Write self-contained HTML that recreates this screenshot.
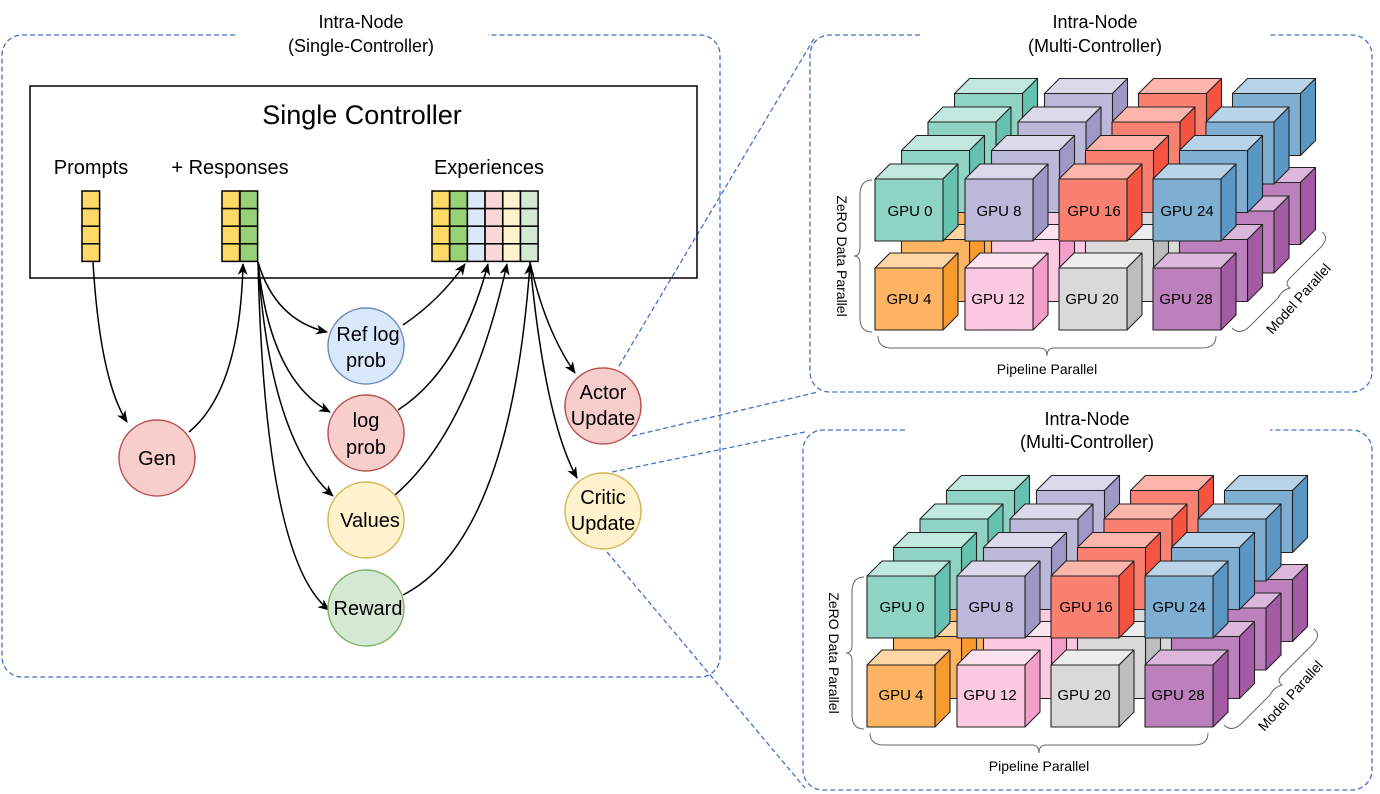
<!DOCTYPE html>
<html><head><meta charset="utf-8"><style>
html,body{margin:0;padding:0;background:#fff;}
svg{display:block;font-family:"Liberation Sans",sans-serif;}
.c{font-family:"Liberation Sans",sans-serif;font-size:15px;}
</style></head><body>
<svg id="s" width="1380" height="794" viewBox="0 0 1380 794" xmlns="http://www.w3.org/2000/svg">
<defs>
<marker id="ar" viewBox="0 0 12 10" refX="11" refY="5" markerWidth="12" markerHeight="10" orient="auto-start-reverse" markerUnits="userSpaceOnUse">
<path d="M0,0 L12,5 L0,10 L3.5,5 z" fill="#000"/></marker>
</defs>
<g fill="none" stroke="#4472c4" stroke-width="1.3" stroke-dasharray="5,3">
<path d="M235,35 H22 A20,20 0 0 0 2,55 V657 A20,20 0 0 0 22,677 H700 A20,20 0 0 0 720,657 V55 A20,20 0 0 0 700,35 H488"/>
<path d="M920,35 H830 A20,20 0 0 0 810,55 V372 A20,20 0 0 0 830,392 H1352 A20,20 0 0 0 1372,372 V55 A20,20 0 0 0 1352,35 H1270"/>
<path d="M905,430 H823 A20,20 0 0 0 803,450 V770 A20,20 0 0 0 823,790 H1352 A20,20 0 0 0 1372,770 V450 A20,20 0 0 0 1352,430 H1270"/>
<line x1="619" y1="366" x2="815" y2="37"/>
<line x1="632" y1="436" x2="818" y2="392"/>
<line x1="612" y1="472" x2="805" y2="432"/>
<line x1="607" y1="552" x2="805" y2="788"/>
</g>
<g font-size="18" text-anchor="middle" fill="#000">
<text x="361" y="28">Intra-Node</text><text x="361" y="52">(Single-Controller)</text>
<text x="1095" y="28">Intra-Node</text><text x="1095" y="52">(Multi-Controller)</text>
<text x="1087" y="425">Intra-Node</text><text x="1087" y="448">(Multi-Controller)</text>
</g>
<rect x="30" y="86" width="667" height="192" fill="none" stroke="#000" stroke-width="1.5"/>
<text x="362" y="124" font-size="27" text-anchor="middle">Single Controller</text>
<g font-size="20" text-anchor="middle">
<text x="91" y="174">Prompts</text><text x="230" y="174">+ Responses</text><text x="489" y="174">Experiences</text>
</g>
<g id="grids" stroke="#000" stroke-width="1.5"></g>
<g fill="none" stroke="#000" stroke-width="1.5" marker-end="url(#ar)">
<path d="M93,262 Q100,380 127,422"/>
<path d="M189,432 Q240,390 243,264"/>
<path d="M258,262 Q275,320 327,332"/>
<path d="M258,262 Q270,380 330,412"/>
<path d="M258,262 Q270,440 333,496"/>
<path d="M258,262 Q265,560 329,610"/>
<path d="M403,325 Q440,300 465,264"/>
<path d="M398,410 Q460,370 488,264"/>
<path d="M395,495 Q470,430 507,264"/>
<path d="M403,595 Q510,540 530,264"/>
<path d="M530,262 Q545,330 575,373"/>
<path d="M530,262 Q545,420 577,478"/>
</g>
<g stroke-width="1.5">
<circle cx="157" cy="458" r="38" fill="#f8cecc" stroke="#b85450"/>
<circle cx="366" cy="346" r="38" fill="#dae8fc" stroke="#6c8ebf"/>
<circle cx="366" cy="433" r="38" fill="#f8cecc" stroke="#b85450"/>
<circle cx="366" cy="520" r="38" fill="#fff2cc" stroke="#d6b656"/>
<circle cx="366" cy="608" r="38" fill="#d5e8d4" stroke="#82b366"/>
<circle cx="603" cy="406" r="38" fill="#f8cecc" stroke="#b85450"/>
<circle cx="603" cy="511" r="38" fill="#fff2cc" stroke="#d6b656"/>
</g>
<g font-size="20" text-anchor="middle">
<text x="157" y="465">Gen</text>
<text x="368" y="341">Ref log</text><text x="366" y="367">prob</text>
<text x="366" y="427">log</text><text x="366" y="454">prob</text>
<text x="370" y="527">Values</text>
<text x="368" y="615">Reward</text>
<text x="603" y="399">Actor</text><text x="603" y="425">Update</text>
<text x="603" y="504">Critic</text><text x="603" y="530">Update</text>
</g>
<g id="cubes1"></g><g id="cubes2"></g>
<g class="c">
<text x="910" y="216" text-anchor="middle">GPU 0</text>
<text x="999" y="216" text-anchor="middle">GPU 8</text>
<text x="1094" y="216" text-anchor="middle">GPU 16</text>
<text x="1187" y="216" text-anchor="middle">GPU 24</text>
<text x="909" y="304" text-anchor="middle">GPU 4</text>
<text x="998" y="304" text-anchor="middle">GPU 12</text>
<text x="1092" y="304" text-anchor="middle">GPU 20</text>
<text x="1186" y="304" text-anchor="middle">GPU 28</text>
<text x="1047" y="374" text-anchor="middle" font-size="14">Pipeline Parallel</text>
<text transform="translate(837,256) rotate(90)" text-anchor="middle" font-size="14">ZeRO Data Parallel</text>
<text transform="translate(1302,302) rotate(-48)" text-anchor="middle" font-size="14">Model Parallel</text>
<text x="902" y="612" text-anchor="middle">GPU 0</text>
<text x="991" y="612" text-anchor="middle">GPU 8</text>
<text x="1086" y="612" text-anchor="middle">GPU 16</text>
<text x="1179" y="612" text-anchor="middle">GPU 24</text>
<text x="901" y="700" text-anchor="middle">GPU 4</text>
<text x="990" y="700" text-anchor="middle">GPU 12</text>
<text x="1084" y="700" text-anchor="middle">GPU 20</text>
<text x="1178" y="700" text-anchor="middle">GPU 28</text>
<text x="1039" y="771" text-anchor="middle" font-size="14">Pipeline Parallel</text>
<text transform="translate(829,653) rotate(90)" text-anchor="middle" font-size="14">ZeRO Data Parallel</text>
<text transform="translate(1294,699) rotate(-48)" text-anchor="middle" font-size="14">Model Parallel</text>
</g>
<g fill="none" stroke="#666" stroke-width="1">
<path d="M872,180 Q860,180 860,195 V248 Q860,256 854,256 Q860,256 860,264 V318 Q860,332 872,332"/>
<path d="M878,336 Q878,348 892,348 H1040 Q1047,348 1047,356 Q1047,348 1054,348 H1202 Q1216,348 1216,336"/>
<path d="M1232,328 Q1240,336 1250,326 L1278,298 Q1282,290 1290,288 Q1284,284 1290,278 L1320,248 Q1330,238 1322,232"/>
<path d="M864,577 Q852,577 852,592 V645 Q852,653 846,653 Q852,653 852,661 V715 Q852,729 864,729"/>
<path d="M870,733 Q870,745 884,745 H1032 Q1039,745 1039,753 Q1039,745 1046,745 H1194 Q1208,745 1208,733"/>
<path d="M1224,725 Q1232,733 1242,723 L1270,695 Q1274,687 1282,685 Q1276,681 1282,675 L1312,645 Q1322,635 1314,629"/>
</g>
</svg>
<script>
(function(){
var NS="http://www.w3.org/2000/svg";
function el(p,t,a){var e=document.createElementNS(NS,t);for(var k in a)e.setAttribute(k,a[k]);p.appendChild(e);return e;}
var g=document.getElementById('grids');
function col(x,c){for(var i=0;i<4;i++)el(g,'rect',{x:x,y:191+i*17.6,width:17.6,height:17.6,fill:c});}
col(82,'#ffd966');col(222,'#ffd966');col(240,'#97d077');
var ec=['#ffd966','#97d077','#dae8fc','#f8d7d6','#fff2cc','#d5e8d4'];
for(var j=0;j<6;j++)col(432+j*17.7,ec[j]);
var top=[['#8fd3c4','#c2e9df','#66c2b0'],['#bcb8d9','#dcd9ec','#9e98c6'],['#fa8072','#fcb5aa','#f65340'],['#7faed3','#b9d4e8','#5b97c4']];
var bot=[['#fdb462','#fed6a6','#f99a2e'],['#fcc9e3','#fde3f0','#f59fcb'],['#d9d9d9','#ededed','#bdbdbd'],['#bc80bd','#dbb7dc','#a55aa6']];
var xs=[0,90,184,278];
function block(id,X,Y){
 var p=document.getElementById(id);
 for(var d=3;d>=0;d--){
  for(var r=1;r>=0;r--){
   for(var c=0;c<4;c++){
    var cl=r==0?top[c]:bot[c];
    var x=X+xs[c]+d*26.5, y=Y+r*89-d*28.5, w=68,h=62,dx=15,dy=15;
    var s={stroke:'#222','stroke-width':1.1,'stroke-linejoin':'round'};
    function P(pts,f){var o={points:pts,fill:f};for(var k in s)o[k]=s[k];el(p,'polygon',o);}
    P(x+','+y+' '+(x+dx)+','+(y-dy)+' '+(x+w+dx)+','+(y-dy)+' '+(x+w)+','+y,cl[1]);
    P((x+w)+','+y+' '+(x+w+dx)+','+(y-dy)+' '+(x+w+dx)+','+(y+h-dy)+' '+(x+w)+','+(y+h),cl[2]);
    P(x+','+y+' '+(x+w)+','+y+' '+(x+w)+','+(y+h)+' '+x+','+(y+h),cl[0]);
   }
  }
 }
}
block('cubes1',875,179);block('cubes2',867,576);
})();
</script>
</body></html>
